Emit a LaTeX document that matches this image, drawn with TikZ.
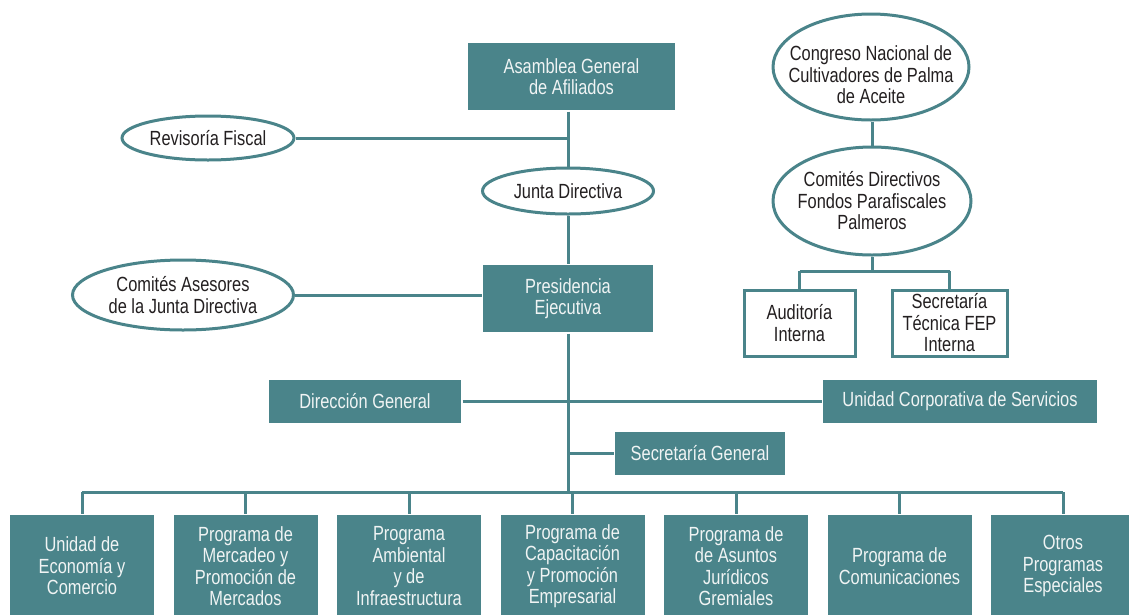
\documentclass[tikz,border=0pt]{standalone}
\usepackage{fontspec}
\setmainfont[FakeStretch=0.8]{Liberation Sans}
\usetikzlibrary{shapes.geometric}
\definecolor{fedeteal}{RGB}{74,132,138}
\definecolor{boxtext}{RGB}{240,244,244}
\definecolor{inktext}{RGB}{35,31,32}

\begin{document}
\begin{tikzpicture}
  [x=1pt,y=-1pt,line width=3pt,color=fedeteal,
   every node/.style={align=center,font=\fontsize{20.5}{21.5}\selectfont,inner sep=0pt},
   caja/.style={rectangle,fill=fedeteal,text=boxtext},
   blanca/.style={rectangle,draw,fill=white,text=inktext},
   elipse/.style={ellipse,draw,fill=white,text=inktext,inner xsep=-45pt,inner ysep=-22pt}]
  \useasboundingbox (0,0) rectangle (1129,614);

  \node[caja,minimum width=207,minimum height=67] (ase) at (571.5,76.5) {Asamblea General\\de Afiliados};
  \node[elipse,minimum width=172,minimum height=44] (rev) at (208,138) {Revisoría Fiscal};
  \node[elipse,minimum width=171,minimum height=46] (junta) at (568,191) {Junta Directiva};
  \node[elipse,minimum width=221,minimum height=70] (ases) at (183,295) {Comités Asesores\\de la Junta Directiva};
  \node[caja,minimum width=170,minimum height=67] (pres) at (568,298.5) {Presidencia\\Ejecutiva};

  \node[elipse,minimum width=196,minimum height=106] (cong) at (871,67) {};
  \node[text=inktext] (congtxt) at (871,75) {Congreso Nacional de\\Cultivadores de Palma\\de Aceite};
  \node[elipse,minimum width=198,minimum height=108] (comd) at (872,201) {Comités Directivos\\Fondos Parafiscales\\Palmeros};
  \node[blanca,minimum width=111,minimum height=66] (aud) at (799.5,323) {Auditoría\\Interna};
  \node[blanca,minimum width=115,minimum height=66] (sect) at (949.5,323) {Secretaría\\Técnica FEP\\Interna};

  \node[caja,minimum width=192,minimum height=43] (dir) at (365,401.5) {Dirección General};
  \node[caja,minimum width=274,minimum height=43] (uni) at (960,401.5) {Unidad Corporativa de Servicios};
  \node[caja,minimum width=170,minimum height=43] (secg) at (700,453.5) {Secretaría General};

  \foreach \n/\x/\txt in {1/82/{Unidad de\\Economía y\\Comercio},
      2/245.5/{Programa de\\Mercadeo y\\Promoción de\\Mercados},
      3/409/{Programa\\Ambiental\\y de\\Infraestructura},
      4/572.5/{Programa de\\Capacitación\\y Promoción\\Empresarial},
      5/736/{Programa de\\de Asuntos\\Jurídicos\\Gremiales},
      6/899.5/{Programa de\\Comunicaciones},
      7/1063/{Otros\\Programas\\Especiales}}
    \node[caja,minimum width=144,minimum height=102] (b\n) at (\x,566) {\txt};

  \coordinate (bus) at (568,492);
  \coordinate (rbus) at (872,271);

  \draw (junta |- ase.south) -- (junta);
  \draw (junta) -- (pres);
  \draw (rev) -- (rev -| junta);
  \draw (ases) -- (ases -| pres.west);
  \draw (pres) -- (bus);
  \draw (dir) -- (uni);
  \draw (secg) -- (secg -| pres);
  \draw (b1 |- bus) -- (b7 |- bus);
  \foreach \n in {1,...,7}
    \draw (b\n |- bus) -- (b\n);

  \draw (comd |- cong.south) -- (comd);
  \draw (comd) -- (rbus);
  \draw (aud |- rbus) -- (sect |- rbus);
  \draw (aud |- rbus) -- (aud);
  \draw (sect |- rbus) -- (sect);
\end{tikzpicture}
\end{document}
